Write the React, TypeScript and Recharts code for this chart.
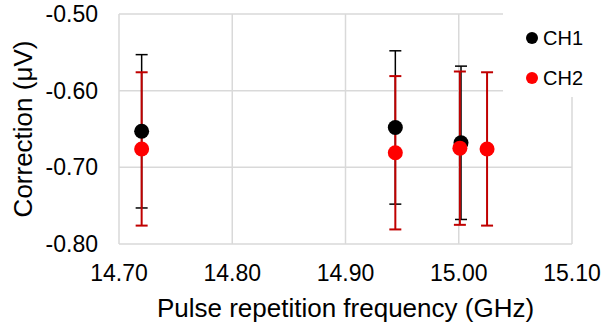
import React from 'react'
import { ScatterChart, Scatter, XAxis, YAxis, CartesianGrid, ErrorBar, Label } from 'recharts'

const seriesNames = ['CH1', 'CH2']
const markerColors = ['#000000', '#ff0000']
const errorColors = ['#000000', '#c00000']

const ch1Freq = [14.72, 14.944, 15.002]
const ch1Values = [-0.653, -0.648, -0.668]
const ch1Errors = [0.1, 0.1, 0.1]

const ch2Freq = [14.72, 14.944, 15.001, 15.025]
const ch2Values = [-0.676, -0.681, -0.675, -0.676]
const ch2Errors = [0.1, 0.1, 0.1, 0.1]

const xTicks = [14.7, 14.8, 14.9, 15.0, 15.1]
const yTicks = [-0.8, -0.7, -0.6, -0.5]

const FONT = 'Arial, "Liberation Sans", sans-serif'

const ch1Data = ch1Freq.map((x, i) => ({ x, y: ch1Values[i], err: ch1Errors[i] }))
const ch2Data = ch2Freq.map((x, i) => ({ x, y: ch2Values[i], err: ch2Errors[i] }))

const noShape = () => <g />
const dot = (color: string) => (props: any) => (
  <circle cx={props.cx} cy={props.cy} r={7.5} fill={color} />
)

export default function App() {
  return (
    <div style={{ position: 'absolute', left: 0, top: 0, width: 605, height: 327, background: '#fff' }}>
      <ScatterChart width={605} height={327} margin={{ top: 14, right: 33, bottom: 0, left: 0 }}>
        <CartesianGrid stroke="#d9d9d9" strokeWidth={1.5} />
        <XAxis
          type="number"
          dataKey="x"
          domain={[14.7, 15.1]}
          ticks={xTicks}
          tickFormatter={(v: number) => v.toFixed(2)}
          axisLine={false}
          tickLine={false}
          tickSize={0}
          tickMargin={21}
          height={83}
          tick={{ fill: '#000', fontSize: 23, fontFamily: FONT }}
          interval={0}
        >
          <Label
            content={({ viewBox }: any) => (
              <text
                x={viewBox.x + viewBox.width / 2}
                y={viewBox.y + 73}
                textAnchor="middle"
                fontSize={26}
                fontFamily={FONT}
                fill="#000"
              >
                Pulse repetition frequency (GHz)
              </text>
            )}
          />
        </XAxis>
        <YAxis
          type="number"
          dataKey="y"
          domain={[-0.8, -0.5]}
          ticks={yTicks}
          tickFormatter={(v: number) => v.toFixed(2)}
          axisLine={false}
          tickLine={false}
          tickSize={0}
          tickMargin={21}
          width={119}
          tick={{ fill: '#000', fontSize: 23, fontFamily: FONT }}
          interval={0}
        >
          <Label
            content={({ viewBox }: any) => {
              const cy = viewBox.y + viewBox.height / 2
              return (
                <text
                  x={32}
                  y={cy}
                  transform={`rotate(-90, 32, ${cy})`}
                  textAnchor="middle"
                  fontSize={26}
                  fontFamily={FONT}
                  fill="#000"
                >
                  Correction (μV)
                </text>
              )
            }}
          />
        </YAxis>
        {/* error bars first, markers on top, like the original */}
        <Scatter data={ch1Data} shape={noShape} isAnimationActive={false}>
          <ErrorBar dataKey="err" direction="y" width={6} stroke={errorColors[0]} strokeWidth={1.5} />
        </Scatter>
        <Scatter data={ch2Data} shape={noShape} isAnimationActive={false}>
          <ErrorBar dataKey="err" direction="y" width={6} stroke={errorColors[1]} strokeWidth={2} />
        </Scatter>
        <Scatter name={seriesNames[0]} data={ch1Data} shape={dot(markerColors[0])} isAnimationActive={false} />
        <Scatter name={seriesNames[1]} data={ch2Data} shape={dot(markerColors[1])} isAnimationActive={false} />
      </ScatterChart>
      <div
        style={{
          position: 'absolute',
          left: 503,
          top: 8,
          width: 102,
          height: 89,
          background: '#fff',
          fontFamily: FONT,
          fontSize: 20,
        }}
      >
        {seriesNames.map((name, i) => (
          <div
            key={name}
            style={{ position: 'absolute', left: 23, top: 18 + i * 40, display: 'flex', alignItems: 'center', gap: 5, lineHeight: '24px' }}
          >
            <div style={{ width: 12, height: 12, borderRadius: 6, background: markerColors[i] }} />
            <span>{name}</span>
          </div>
        ))}
      </div>
    </div>
  )
}
